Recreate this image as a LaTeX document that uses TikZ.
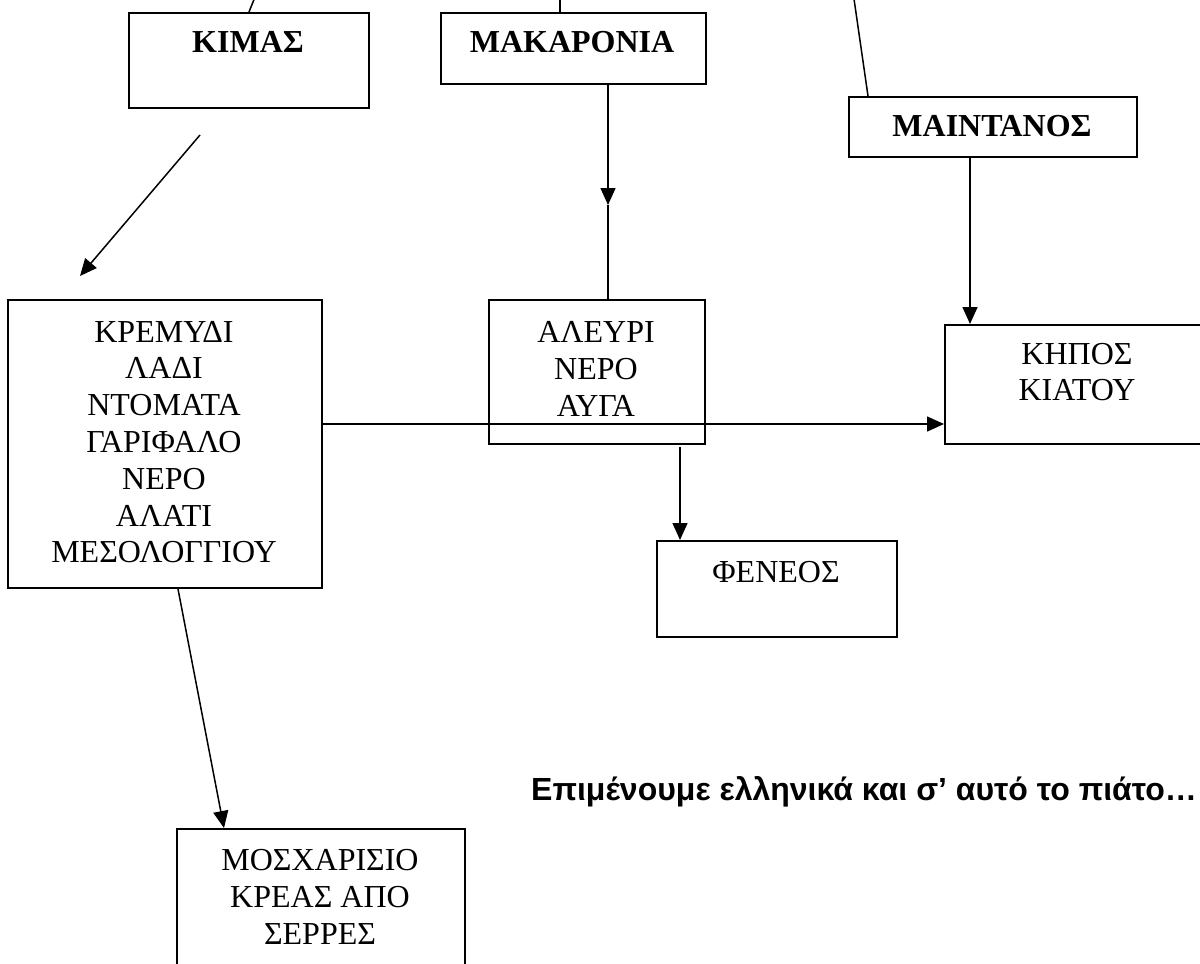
\documentclass[tikz,border=0pt]{standalone}
\usepackage{fontspec}
\setmainfont{Liberation Serif}
\newfontfamily\greeksans{Liberation Sans}
\usetikzlibrary{arrows.meta}

\begin{document}
\begin{tikzpicture}[x=1pt, y=-1pt,
    box/.style={draw, line width=2pt, inner sep=0pt, anchor=north west},
    txt/.style={align=center, inner sep=0pt, font=\fontsize{32}{36.8}\selectfont},
    boldtxt/.style={txt, font=\fontsize{32}{36.8}\selectfont\bfseries},
    ln/.style={line width=1.5pt},
    arr/.style={ln, -{Triangle[length=17pt,width=15pt]}}]
    \useasboundingbox (0,0) rectangle (1200,964);
    \clip (0,0) rectangle (1200,964);

    % --- Top row ---
    \node[box, minimum width=240, minimum height=95] (kimas) at (128,12) {};
    \node[boldtxt] (kimastxt) at (248,42) {ΚΙΜΑΣ};
    \node[box, minimum width=265, minimum height=71] (makaronia) at (440,12) {};
    \node[boldtxt] (makaroniatxt) at (572,42) {ΜΑΚΑΡΟΝΙΑ};
    \node[box, minimum width=288, minimum height=60] (maintanos) at (848,96) {};
    \node[boldtxt] (maintanostxt) at (992,126) {ΜΑΙΝΤΑΝΟΣ};

    % --- Ingredients ---
    \node[box, minimum width=314, minimum height=288] (kremydi) at (7,299) {};
    \node[txt] (kremyditxt) at (164,442) {ΚΡΕΜΥΔΙ\\ΛΑΔΙ\\ΝΤΟΜΑΤΑ\\ΓΑΡΙΦΑΛΟ\\ΝΕΡΟ\\ΑΛΑΤΙ\\ΜΕΣΟΛΟΓΓΙΟΥ};
    \node[box, minimum width=216, minimum height=144] (aleyri) at (488,299) {};
    \node[txt] (aleyritxt) at (596,369) {ΑΛΕΥΡΙ\\ΝΕΡΟ\\ΑΥΓΑ};
    \node[box, minimum width=266, minimum height=119] (khpos) at (944,324) {};
    \node[txt] (khpostxt) at (1077,372) {ΚΗΠΟΣ\\ΚΙΑΤΟΥ};

    % --- Origins ---
    \node[box, minimum width=240, minimum height=96] (feneos) at (656,540) {};
    \node[txt] (feneostxt) at (776,572) {ΦΕΝΕΟΣ};
    \node[box, minimum width=288, minimum height=200] (mosxari) at (176,828) {};
    \node[txt] (mosxaritxt) at (320,897) {ΜΟΣΧΑΡΙΣΙΟ\\ΚΡΕΑΣ ΑΠΟ\\ΣΕΡΡΕΣ};

    \node[anchor=base west, inner sep=0pt, font=\greeksans\fontsize{32}{37}\selectfont\bfseries] (motto) at (531,800) {Επιμένουμε ελληνικά και σ’ αυτό το πιάτο…};

    % --- Connectors ---
    \coordinate (kimasin) at (257,-8);
    \coordinate (makin) at (560,-8);
    \coordinate (maintin) at (853,-8);
    \coordinate (makmid) at (608,205);
    \coordinate (midrow) at (0,424);
    \coordinate (fenx) at (680,447);
    \draw[ln] (kimasin) -- (kimas.north);
    \draw[ln] (makin) -- (makin |- makaronia.north);
    \draw[ln] (maintin) -- ([xshift=20pt]maintanos.north west);

    \draw[arr] (makaronia.south -| makmid) -- (makmid);
    \draw[ln] (makmid) -- (aleyri.north -| makmid);
    \draw[arr] ([xshift=-23pt]maintanos.south) -- ([xshift=-23pt]maintanos.south |- khpos.north);
    \draw[arr] (kremydi.east |- midrow) -- (khpos.west |- midrow);
    \draw[arr] (fenx) -- (fenx |- feneos.north);
    \draw[arr] ([shift={(-49pt,-26pt)}]kimas.south) -- ([shift={(73pt,23pt)}]kremydi.north west);
    \draw[arr] ([xshift=13pt]kremydi.south) -- ([xshift=48pt]mosxari.north west);
\end{tikzpicture}
\end{document}
